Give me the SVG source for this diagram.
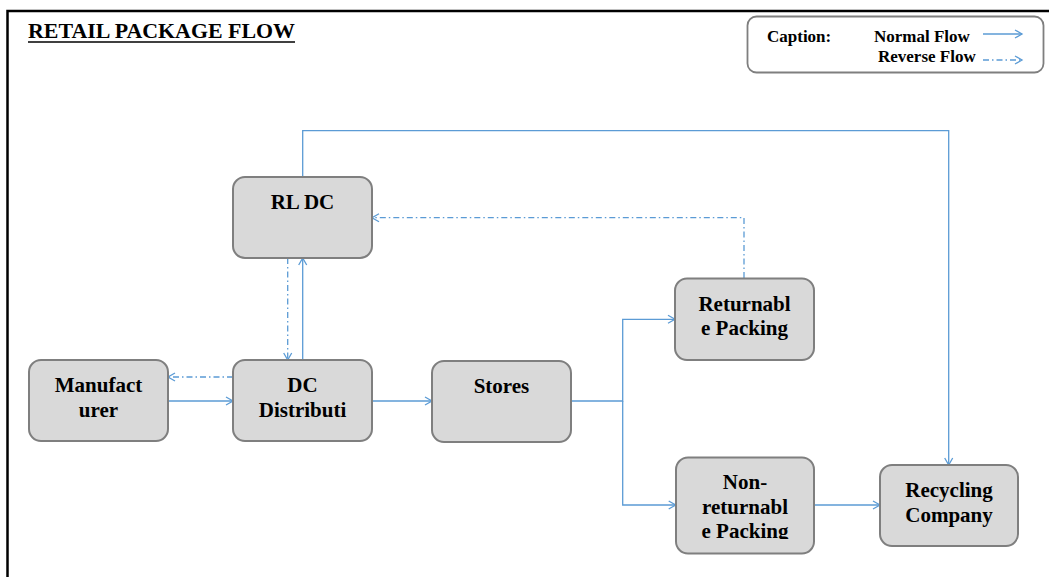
<svg xmlns="http://www.w3.org/2000/svg" width="1049" height="577" viewBox="0 0 1049 577">
<style>
  .node rect { fill: #d9d9d9; stroke: #7f7f7f; stroke-width: 2; }
  .node text { font-family: "Liberation Serif", "Times New Roman", serif; font-weight: bold; font-size: 21px; fill: #000; text-anchor: middle; }
  .conn path { fill: none; stroke: #5b9bd5; stroke-width: 1.3; }
  .conn .rev { stroke-dasharray: 6 3 1.5 3; }
  .cap { font-family: "Liberation Serif", "Times New Roman", serif; font-weight: bold; font-size: 17px; fill: #000; }
</style>
<defs>
  <marker id="arr" markerUnits="userSpaceOnUse" markerWidth="10" markerHeight="10" viewBox="0 0 10 10" refX="8" refY="5" orient="auto">
    <path d="M1,1 L8,5 L1,9" fill="none" stroke="#5b9bd5" stroke-width="1.3"/>
  </marker>
  <clipPath id="clipNR"><rect x="676" y="457" width="138" height="82"/></clipPath>
</defs>
<rect x="0" y="0" width="1049" height="577" fill="#fff"/>
<rect x="7.5" y="11" width="1100" height="700" fill="#fff" stroke="#000" stroke-width="2.5"/>
<g id="title">
  <text x="28" y="38" font-family="Liberation Serif, serif" font-weight="bold" font-size="20.5" textLength="267" lengthAdjust="spacingAndGlyphs">RETAIL PACKAGE FLOW</text>
  <line x1="28" y1="42" x2="295" y2="42" stroke="#000" stroke-width="1.6"/>
</g>
<g id="caption">
  <rect x="747.5" y="16.5" width="296" height="56" rx="9" fill="#fff" stroke="#7f7f7f" stroke-width="1.8"/>
  <text class="cap" x="767" y="42">Caption:</text>
  <text class="cap" x="874" y="42">Normal Flow</text>
  <text class="cap" x="878" y="62">Reverse Flow</text>
  <g class="conn">
    <path d="M983,34 H1022" marker-end="url(#arr)"/>
    <path class="rev" d="M983,60 H1022" marker-end="url(#arr)"/>
  </g>
</g>
<g id="connectors" class="conn">
  <path d="M168,401 H233" marker-end="url(#arr)"/>
  <path class="rev" d="M233,377 H168" marker-end="url(#arr)"/>
  <path d="M372,401 H432" marker-end="url(#arr)"/>
  <path d="M302.7,360 V258" marker-end="url(#arr)"/>
  <path class="rev" d="M287.7,258 V360" marker-end="url(#arr)"/>
  <path d="M571,401 H622.7 V319.3 H675" marker-end="url(#arr)"/>
  <path d="M622.7,401 V505 H675.7" marker-end="url(#arr)"/>
  <path d="M814,505 H880" marker-end="url(#arr)"/>
  <path d="M302.7,177 V130.7 H948.7 V465" marker-end="url(#arr)"/>
  <path class="rev" d="M744,278 V217.7 H372" marker-end="url(#arr)"/>
</g>
<g id="manufacturer" class="node">
  <rect x="29" y="360" width="139" height="81" rx="12"/>
  <text x="98.5" y="392">Manufact</text>
  <text x="98.5" y="417">urer</text>
</g>
<g id="dc" class="node">
  <rect x="233" y="360" width="139" height="81" rx="12"/>
  <text x="302.5" y="392">DC</text>
  <text x="302.5" y="417">Distributi</text>
</g>
<g id="stores" class="node">
  <rect x="432" y="361" width="139" height="81" rx="12"/>
  <text x="501.5" y="393">Stores</text>
</g>
<g id="rldc" class="node">
  <rect x="233" y="177" width="139" height="81" rx="12"/>
  <text x="302.5" y="209">RL DC</text>
</g>
<g id="returnable" class="node">
  <rect x="675" y="278.5" width="139" height="81.5" rx="12"/>
  <text x="744.5" y="311">Returnabl</text>
  <text x="744.5" y="335">e Packing</text>
</g>
<g id="nonreturnable" class="node">
  <rect x="676" y="457.5" width="138" height="96" rx="12"/>
  <g clip-path="url(#clipNR)">
    <text x="745" y="489">Non-</text>
    <text x="745" y="514">returnabl</text>
    <text x="745" y="538">e Packing</text>
  </g>
</g>
<g id="recycling" class="node">
  <rect x="880" y="465" width="138" height="81" rx="12"/>
  <text x="949" y="497">Recycling</text>
  <text x="949" y="522">Company</text>
</g>
</svg>
